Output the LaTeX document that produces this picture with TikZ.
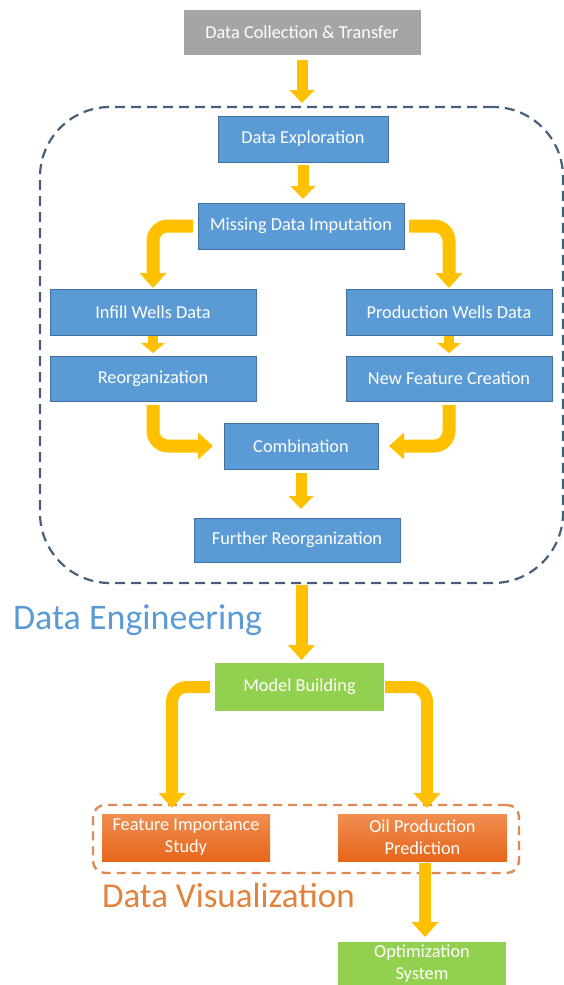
\documentclass[tikz,border=0pt]{standalone}
\usepackage{fontspec}
\setmainfont{Carlito}
\usetikzlibrary{arrows.meta,calc,shadings}
\definecolor{boxblue}{HTML}{5B9BD5}
\definecolor{boxblueline}{HTML}{41719C}
\definecolor{boxgray}{HTML}{A5A5A5}
\definecolor{boxgreen}{HTML}{92D050}
\definecolor{arrowyellow}{HTML}{FFC000}
\definecolor{dashblue}{HTML}{46607C}
\definecolor{dashorange}{HTML}{DD8B52}
\definecolor{titleblue}{HTML}{5B9BD5}
\definecolor{titleorange}{HTML}{E3823D}
\definecolor{orangetop}{HTML}{EF8E50}
\definecolor{orangebot}{HTML}{E8661A}
\begin{document}
\begin{tikzpicture}[x=1pt,y=-1pt,
  box/.style={rectangle, minimum height=46pt, inner sep=0pt, outer sep=0pt,
    text=white, font=\fontsize{18.3}{22}\selectfont, align=center},
  bluebox/.style={box, fill=boxblue, draw=boxblueline, line width=0.8pt},
  graybox/.style={box, fill=boxgray},
  greenbox/.style={box, fill=boxgreen},
  orangebox/.style={box, top color=orangetop, bottom color=orangebot},
  flowA/.style={draw=arrowyellow, line width=11pt, line cap=butt,
    -{Triangle[width=25pt,length=13pt,line width=0pt]}},
  flowB/.style={draw=arrowyellow, line width=13pt, line cap=butt,
    -{Triangle[width=27pt,length=15pt,line width=0pt]}},
  flowS/.style={draw=arrowyellow, line width=10pt, line cap=butt,
    -{Triangle[width=24pt,length=10pt,line width=0pt]}},
  groupbox/.style={rectangle, inner sep=0pt, outer sep=0pt},
  title/.style={anchor=base west, inner sep=0pt, outer sep=0pt}
]
\path[use as bounding box, clip] (0,0) rectangle (564,985);

% group frames
\node[groupbox, draw=dashblue, line width=2.2pt, dash pattern=on 10pt off 6pt,
  rounded corners=70pt, minimum width=523pt, minimum height=476pt] (deng) at (301.5,345) {};
\node[groupbox, draw=dashorange, line width=2.4pt, dash pattern=on 9pt off 6pt,
  rounded corners=12pt, minimum width=426pt, minimum height=68pt] (dviz) at (306,839) {};

% boxes
\node[graybox, minimum width=237pt, minimum height=45pt] (dc) at (302,32.5) {Data Collection \& Transfer};
\node[bluebox, minimum width=170pt] (de) at (303,139) {Data Exploration};
\node[bluebox, minimum width=206pt] (mdi) at (301,226) {Missing Data Imputation};
\node[bluebox, minimum width=206pt] (infill) at (153,312) {Infill Wells Data};
\node[bluebox, minimum width=206pt] (pwd) at (449,312) {Production Wells Data};
\node[bluebox, minimum width=206pt, minimum height=45pt] (reorg) at (153,378.5) {Reorganization};
\node[bluebox, minimum width=206pt, minimum height=45pt] (nfc) at (449,378.5) {New Feature Creation};
\node[bluebox, minimum width=154pt] (comb) at (301,446) {Combination};
\node[bluebox, minimum width=206pt, minimum height=44pt] (fr) at (297,540) {Further Reorganization};
\node[greenbox, minimum width=169pt, minimum height=48pt] (mb) at (299.5,687) {Model Building};
\node[orangebox, minimum width=168pt, minimum height=47pt] (fis) at (186,837.5) {Feature Importance\\Study};
\node[orangebox, minimum width=169pt, minimum height=47pt] (opp) at (422.5,837.5) {Oil Production\\Prediction};
\node[greenbox, minimum width=168pt, minimum height=44pt] (opt) at (422,964) {Optimization\\System};

% titles
\node[title, text=titleblue, font=\fontsize{36}{40}\selectfont] (teng) at (13,629) {Data Engineering};
\node[title, text=titleorange, font=\fontsize{35}{40}\selectfont] (tviz) at (102,907) {Data Visualization};

% arrow end points
\coordinate (fisin) at (172,808);
\coordinate (oppin) at (427,808);
\coordinate (oppout) at (425,861);
\coordinate (optin) at (425,942);

% connectors
\draw[flowA, shorten <=5pt, shorten >=4pt] (dc.south) -- (dc.south |- deng.north);
\draw[flowA, shorten <=3pt, shorten >=4pt] (de.south) -- (de.south |- mdi.north);
\draw[flowB, rounded corners=15pt, shorten <=5pt, shorten >=1pt] (mdi.west) -| (infill.north);
\draw[flowB, rounded corners=15pt, shorten <=5pt, shorten >=1pt] (mdi.east) -| (pwd.north);
\draw[flowS, shorten <=1pt, shorten >=3pt] (infill.south) -- (reorg.north);
\draw[flowS, shorten <=1pt, shorten >=3pt] (pwd.south) -- (nfc.north);
\draw[flowB, rounded corners=15pt, shorten <=4pt, shorten >=11pt] (reorg.south) |- (comb.west);
\draw[flowB, rounded corners=15pt, shorten <=4pt, shorten >=11pt] (nfc.south) |- (comb.east);
\draw[flowA, shorten <=4pt, shorten >=9pt] (comb.south) -- (comb.south |- fr.north);
\draw[flowB, line width=12pt, shorten <=2pt, shorten >=3pt] (deng.south) -- (deng.south |- mb.north);
\draw[flowB, line width=12pt, rounded corners=15pt, shorten <=5pt] (mb.west) -| (fisin);
\draw[flowB, line width=12pt, rounded corners=15pt, shorten <=1pt] (mb.east) -| (oppin);
\draw[flowB, line width=12pt, shorten <=2pt, shorten >=5pt] (oppout) -- (optin);
\end{tikzpicture}
\end{document}
